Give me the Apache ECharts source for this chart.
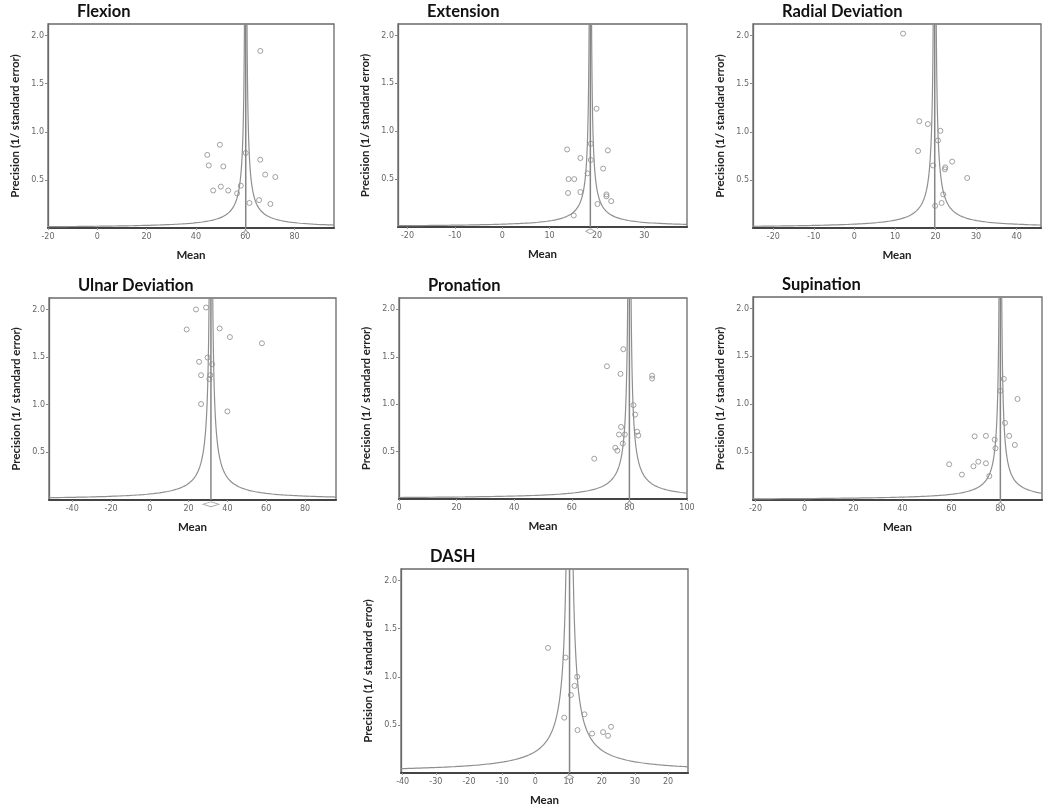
<!DOCTYPE html>
<html>
<head>
<meta charset="utf-8">
<title>Funnel plots</title>
<script src="https://cdn.jsdelivr.net/npm/echarts@6/dist/echarts.min.js"></script>
<style>
  html, body { margin: 0; padding: 0; background: #fff; }
  #chart { width: 1050px; height: 807px; }
</style>
</head>
<body>
<div id="chart"></div>
<script>
// --- data ---
const panelNames = ["Flexion", "Extension", "Radial Deviation", "Ulnar Deviation", "Pronation", "Supination", "DASH"];

const flexionMean = [66.1, 49.7, 44.6, 60.2, 66.1, 45.2, 51.1, 68.1, 72.2, 50.1, 58.2, 47.0, 53.1, 56.7, 65.6, 61.7, 70.2];
const flexionPrecision = [1.84, 0.865, 0.76, 0.78, 0.71, 0.65, 0.64, 0.555, 0.53, 0.43, 0.44, 0.39, 0.39, 0.36, 0.29, 0.26, 0.25];

const extensionMean = [19.9, 18.7, 13.7, 22.3, 16.5, 18.7, 21.3, 18.0, 14.0, 15.2, 13.9, 16.5, 22.0, 22.0, 23.0, 20.1, 15.1];
const extensionPrecision = [1.235, 0.87, 0.81, 0.80, 0.72, 0.70, 0.61, 0.56, 0.50, 0.50, 0.355, 0.365, 0.34, 0.32, 0.27, 0.24, 0.12];

const radialMean = [12.0, 16.0, 18.1, 21.2, 20.6, 15.7, 24.1, 19.4, 22.4, 22.3, 27.8, 21.9, 21.5, 19.9];
const radialPrecision = [2.02, 1.11, 1.08, 1.01, 0.91, 0.80, 0.69, 0.65, 0.63, 0.61, 0.52, 0.35, 0.26, 0.23];

const ulnarMean = [23.8, 29.0, 19.0, 36.0, 41.3, 57.8, 29.8, 25.4, 32.1, 26.4, 31.2, 30.7, 26.4, 40.0];
const ulnarPrecision = [2.0, 2.02, 1.79, 1.80, 1.71, 1.645, 1.495, 1.45, 1.425, 1.31, 1.31, 1.27, 1.007, 0.93];

const pronationMean = [77.9, 72.2, 76.9, 87.9, 87.9, 81.4, 82.0, 77.1, 82.7, 76.4, 78.4, 83.1, 77.7, 75.1, 75.8, 67.8];
const pronationPrecision = [1.58, 1.40, 1.32, 1.30, 1.27, 0.99, 0.89, 0.76, 0.71, 0.68, 0.68, 0.67, 0.585, 0.54, 0.51, 0.425];

const supinationMean = [81.4, 80.0, 87.0, 81.9, 69.5, 74.1, 83.6, 77.7, 78.0, 85.9, 59.1, 71.0, 74.1, 69.0, 64.3, 75.5];
const supinationPrecision = [1.265, 1.14, 1.055, 0.805, 0.665, 0.67, 0.67, 0.63, 0.54, 0.575, 0.373, 0.40, 0.383, 0.352, 0.265, 0.25];

const dashMean = [3.8, 9.1, 12.6, 11.8, 10.7, 14.8, 8.7, 22.8, 12.7, 20.4, 17.1, 21.9];
const dashPrecision = [1.30, 1.20, 1.00, 0.905, 0.81, 0.61, 0.575, 0.48, 0.446, 0.425, 0.41, 0.387];

// pooled estimate and half-width constant of the funnel limits (x = pooled +- k / precision)
const pooledMeans = [60.2, 18.6, 19.8, 31.5, 80.0, 80.0, 10.3];
const funnelK = [1.1, 0.55, 0.8, 2.0, 1.25, 1.2, 2.3];

const xTickValues = [
  [-20, 0, 20, 40, 60, 80],
  [-20, -10, 0, 10, 20, 30],
  [-20, -10, 0, 10, 20, 30, 40],
  [-40, -20, 0, 20, 40, 60, 80],
  [0, 20, 40, 60, 80, 100],
  [-20, 0, 20, 40, 60, 80],
  [-40, -30, -20, -10, 0, 10, 20, 30, 40]
];
const xTickLabels = [
  ["-20", "0", "20", "40", "60", "80"],
  ["-20", "-10", "0", "10", "20", "30"],
  ["-20", "-10", "0", "10", "20", "30", "40"],
  ["-40", "-20", "0", "20", "40", "60", "80"],
  ["0", "20", "40", "60", "80", "100"],
  ["-20", "0", "20", "40", "60", "80"],
  ["-40", "-30", "-20", "-10", "0", "10", "20", "30", "20"]
];
const yTickValues = [0.5, 1.0, 1.5, 2.0];

// --- layout ---
const panels = [
  { x: flexionMean, y: flexionPrecision, box: [48, 24, 286, 204], xr: [-20, 96], diamond: 4 },
  { x: extensionMean, y: extensionPrecision, box: [398, 24, 289, 203], xr: [-22, 39], diamond: 9 },
  { x: radialMean, y: radialPrecision, box: [753, 24, 288, 204], xr: [-25, 46], diamond: 0 },
  { x: ulnarMean, y: ulnarPrecision, box: [49, 298, 287, 202], xr: [-52, 96], diamond: 16 },
  { x: pronationMean, y: pronationPrecision, box: [399, 298, 288, 201], xr: [0, 100], diamond: 4 },
  { x: supinationMean, y: supinationPrecision, box: [753, 297, 289, 203], xr: [-21, 97], diamond: 4 },
  { x: dashMean, y: dashPrecision, box: [401, 569, 287, 204], xr: [-40.5, 46], diamond: 8 }
];
const Y_MAX = 2.12;

const grid = [], xAxis = [], yAxis = [], series = [], title = [];

function funnelBranch(m, k, xEdge, side) {
  // sample precision geometrically from the plot edge up to the top of the box
  const pLow = k / Math.abs(xEdge - m);
  const pts = [];
  const n = 160;
  for (let i = 0; i <= n; i++) {
    const p = pLow * Math.pow(Y_MAX / pLow, i / n);
    pts.push([m + side * k / p, p]);
  }
  return pts;
}

panels.forEach((pn, i) => {
  const [l, t, w, h] = pn.box;
  grid.push({
    left: l, top: t, width: w, height: h,
    show: true, borderColor: "#6a6a6a", borderWidth: 1.3, backgroundColor: "#fff"
  });
  title.push({
    text: panelNames[i],
    left: l + 29, top: t - 21, padding: 0,
    textStyle: { fontFamily: "Lato", fontWeight: "bold", fontSize: 16.5, color: "#111" }
  });
  xAxis.push({
    type: "value", gridIndex: i, min: pn.xr[0], max: pn.xr[1],
    name: "Mean", nameLocation: "middle", nameGap: 21,
    nameTextStyle: { fontFamily: "Lato", fontWeight: "bold", fontSize: 11.5, color: "#222" },
    splitLine: { show: false },
    axisLine: { show: true, onZero: false, lineStyle: { color: "#444", width: 2 } },
    axisTick: { show: true, length: 2, customValues: xTickValues[i], lineStyle: { color: "#999" } },
    axisLabel: {
      customValues: xTickValues[i], margin: 5,
      fontFamily: "DejaVu Sans", fontSize: 8, color: "#666",
      formatter: (v) => xTickLabels[i][xTickValues[i].indexOf(v)]
    }
  });
  yAxis.push({
    type: "value", gridIndex: i, min: 0, max: Y_MAX,
    name: "Precision (1/ standard error)", nameLocation: "middle", nameGap: 27, nameRotate: 90,
    nameTextStyle: { fontFamily: "Lato", fontWeight: "bold", fontSize: 11.5, color: "#222" },
    splitLine: { show: false },
    axisLine: { show: true, onZero: false, lineStyle: { color: "#6a6a6a", width: 1.3 } },
    axisTick: { show: true, length: 3, customValues: yTickValues, lineStyle: { color: "#888" } },
    axisLabel: {
      customValues: yTickValues, margin: 4,
      fontFamily: "DejaVu Sans", fontSize: 8, color: "#666",
      formatter: (v) => v.toFixed(1)
    }
  });

  const m = pooledMeans[i], k = funnelK[i];
  const curveStyle = { color: "#8f8f8f", width: 1.2 };
  series.push({
    type: "line", xAxisIndex: i, yAxisIndex: i, symbol: "none", silent: true,
    lineStyle: curveStyle, data: funnelBranch(m, k, pn.xr[0], -1)
  });
  series.push({
    type: "line", xAxisIndex: i, yAxisIndex: i, symbol: "none", silent: true,
    lineStyle: curveStyle, data: funnelBranch(m, k, pn.xr[1], 1)
  });
  series.push({
    type: "line", xAxisIndex: i, yAxisIndex: i, symbol: "none", silent: true,
    lineStyle: { color: "#858585", width: 1.5 }, data: [[m, 0], [m, Y_MAX]]
  });
  series.push({
    type: "scatter", xAxisIndex: i, yAxisIndex: i, symbol: "circle", symbolSize: 5,
    itemStyle: { color: "rgba(255,255,255,0)", borderColor: "#8a8a8a", borderWidth: 1 },
    data: pn.x.map((v, j) => [v, pn.y[j]])
  });
  if (pn.diamond > 0) {
    series.push({
      type: "scatter", xAxisIndex: i, yAxisIndex: i, clip: false, silent: true,
      symbol: "diamond", symbolSize: [pn.diamond, 5], z: 5,
      itemStyle: { color: "#fff", borderColor: "#8a8a8a", borderWidth: 1 },
      data: [[m, -0.045]]
    });
  }
});

const chart = echarts.init(document.getElementById("chart"), null, { renderer: "canvas" });
chart.setOption({
  animation: false,
  backgroundColor: "#fff",
  title, grid, xAxis, yAxis, series
});
</script>
</body>
</html>
